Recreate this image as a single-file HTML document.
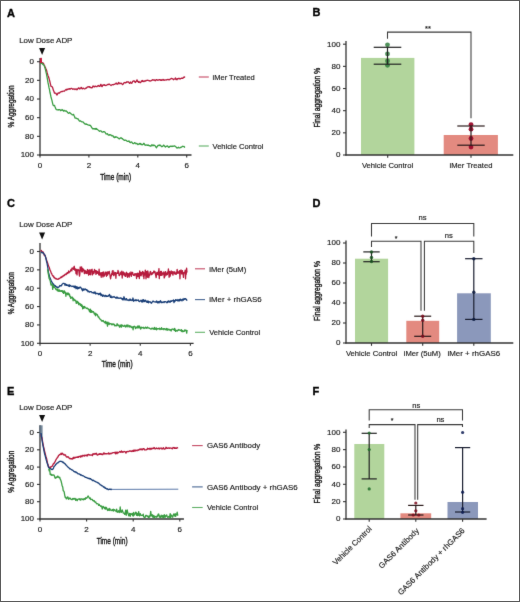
<!DOCTYPE html>
<html><head><meta charset="utf-8"><style>
html,body{margin:0;padding:0;background:#fff;}
#w{position:relative;width:520px;height:602px;overflow:hidden;}
svg{position:absolute;left:0;top:0;}
svg text{font-family:"Liberation Sans", sans-serif;stroke:#1a1a1a;stroke-width:0.16px;}
</style></head><body><div id="w">
<svg width="520" height="602" viewBox="0 0 520 602">
<defs><filter id="bl" filterUnits="userSpaceOnUse" x="0" y="0" width="520" height="602" color-interpolation-filters="sRGB"><feConvolveMatrix order="3" kernelMatrix="0.01 0.06 0.01 0.06 0.72 0.06 0.01 0.06 0.01" edgeMode="duplicate" preserveAlpha="false"/></filter></defs>
<rect x="0" y="0" width="520" height="602" fill="#fff"/>
<g filter="url(#bl)">
<text x="7.0" y="16.8" font-size="11" text-anchor="start" fill="#000" font-weight="bold" style="stroke:#000;stroke-width:0.35px">A</text>
<line x1="40" y1="58" x2="40" y2="155.6" stroke="#333" stroke-width="1.3"/>
<line x1="39.4" y1="155" x2="191.5" y2="155" stroke="#333" stroke-width="1.3"/>
<line x1="37" y1="61.7" x2="40" y2="61.7" stroke="#333" stroke-width="1.1"/>
<text x="34" y="64.10000000000001" font-size="8.0" text-anchor="end" fill="#222" font-weight="normal" >0</text>
<line x1="37" y1="80.36" x2="40" y2="80.36" stroke="#333" stroke-width="1.1"/>
<text x="34" y="82.76" font-size="8.0" text-anchor="end" fill="#222" font-weight="normal" >20</text>
<line x1="37" y1="99.02000000000001" x2="40" y2="99.02000000000001" stroke="#333" stroke-width="1.1"/>
<text x="34" y="101.42000000000002" font-size="8.0" text-anchor="end" fill="#222" font-weight="normal" >40</text>
<line x1="37" y1="117.68" x2="40" y2="117.68" stroke="#333" stroke-width="1.1"/>
<text x="34" y="120.08000000000001" font-size="8.0" text-anchor="end" fill="#222" font-weight="normal" >60</text>
<line x1="37" y1="136.34" x2="40" y2="136.34" stroke="#333" stroke-width="1.1"/>
<text x="34" y="138.74" font-size="8.0" text-anchor="end" fill="#222" font-weight="normal" >80</text>
<line x1="37" y1="155.0" x2="40" y2="155.0" stroke="#333" stroke-width="1.1"/>
<text x="34" y="157.4" font-size="8.0" text-anchor="end" fill="#222" font-weight="normal" >100</text>
<line x1="40.0" y1="155" x2="40.0" y2="157.5" stroke="#333" stroke-width="1.1"/>
<text x="40.0" y="168.3" font-size="8.0" text-anchor="middle" fill="#222" font-weight="normal" >0</text>
<line x1="88.9" y1="155" x2="88.9" y2="157.5" stroke="#333" stroke-width="1.1"/>
<text x="88.9" y="168.3" font-size="8.0" text-anchor="middle" fill="#222" font-weight="normal" >2</text>
<line x1="137.8" y1="155" x2="137.8" y2="157.5" stroke="#333" stroke-width="1.1"/>
<text x="137.8" y="168.3" font-size="8.0" text-anchor="middle" fill="#222" font-weight="normal" >4</text>
<line x1="186.7" y1="155" x2="186.7" y2="157.5" stroke="#333" stroke-width="1.1"/>
<text x="186.7" y="168.3" font-size="8.0" text-anchor="middle" fill="#222" font-weight="normal" >6</text>
<text x="19.2" y="43.3" font-size="7.8" text-anchor="start" fill="#1a1a1a" font-weight="normal"  textLength="53.2" lengthAdjust="spacingAndGlyphs">Low Dose ADP</text>
<polygon points="39.1,48.099999999999994 45.1,48.099999999999994 42.1,55.0" fill="#111"/>
<g transform="translate(14.4,106.5) rotate(-90) scale(0.72,1)"><text x="0" y="0" font-size="9.0" text-anchor="middle" fill="#1a1a1a" style="stroke-width:0.4px">% Aggregation</text></g>
<g transform="translate(115.6,179.6) scale(0.71,1)"><text x="0" y="0" font-size="9.2" text-anchor="middle" fill="#1a1a1a" style="stroke-width:0.4px">Time (min)</text></g>
<path d="M40.00 62.51 L40.50 62.84 L41.00 62.29 L41.50 62.47 L42.00 62.61 L42.50 63.02 L43.00 63.01 L43.50 63.51 L44.00 64.74 L44.50 65.51 L45.00 66.81 L45.50 67.73 L46.00 69.05 L46.50 70.06 L47.00 72.21 L47.50 73.93 L48.00 75.67 L48.50 76.71 L49.00 78.30 L49.50 80.17 L50.00 82.09 L50.50 84.35 L51.00 86.26 L51.50 86.66 L52.00 86.59 L52.50 87.13 L53.00 88.98 L53.50 90.68 L54.00 91.53 L54.50 93.19 L55.00 93.03 L55.50 93.10 L56.00 93.37 L56.50 94.40 L57.00 95.06 L57.50 94.09 L58.00 93.15 L58.50 92.89 L59.00 93.01 L59.50 92.98 L60.00 92.34 L60.50 91.96 L61.00 91.76 L61.50 91.69 L62.00 91.46 L62.50 91.61 L63.00 91.17 L63.50 91.09 L64.00 91.16 L64.50 91.21 L65.00 90.30 L65.50 89.97 L66.00 89.39 L66.50 89.97 L67.00 89.10 L67.50 89.67 L68.00 89.25 L68.50 89.14 L69.00 88.58 L69.50 88.59 L70.00 89.23 L70.50 88.92 L71.00 88.40 L71.50 88.36 L72.00 88.57 L72.50 89.14 L73.00 89.36 L73.50 88.84 L74.00 88.83 L74.50 89.02 L75.00 89.58 L75.50 89.10 L76.00 88.87 L76.50 89.08 L77.00 89.78 L77.50 89.27 L78.00 88.48 L78.50 88.00 L79.00 87.91 L79.50 88.84 L80.00 88.92 L80.50 88.35 L81.00 87.44 L81.50 87.68 L82.00 88.62 L82.50 88.80 L83.00 88.35 L83.50 88.19 L84.00 88.60 L84.50 88.92 L85.00 88.77 L85.50 88.46 L86.00 87.90 L86.50 88.18 L87.00 87.17 L87.50 87.14 L88.00 86.62 L88.50 86.89 L89.00 87.00 L89.50 86.62 L90.00 87.52 L90.50 87.23 L91.00 87.71 L91.50 87.77 L92.00 87.90 L92.50 87.15 L93.00 85.88 L93.50 86.39 L94.00 86.64 L94.50 86.92 L95.00 86.15 L95.50 86.04 L96.00 86.65 L96.50 86.54 L97.00 86.57 L97.50 85.84 L98.00 85.98 L98.50 85.47 L99.00 86.02 L99.50 86.43 L100.00 86.18 L100.50 84.77 L101.00 84.34 L101.50 86.06 L102.00 86.65 L102.50 85.80 L103.00 84.91 L103.50 84.94 L104.00 85.22 L104.50 84.78 L105.00 85.33 L105.50 85.33 L106.00 85.56 L106.50 85.21 L107.00 84.98 L107.50 84.67 L108.00 84.29 L108.50 84.61 L109.00 84.21 L109.50 84.10 L110.00 84.67 L110.50 85.08 L111.00 85.47 L111.50 85.00 L112.00 84.77 L112.50 84.63 L113.00 84.53 L113.50 84.76 L114.00 84.29 L114.50 84.39 L115.00 83.94 L115.50 83.91 L116.00 83.08 L116.50 83.09 L117.00 84.17 L117.50 83.97 L118.00 84.13 L118.50 82.42 L119.00 82.85 L119.50 83.09 L120.00 83.83 L120.50 83.48 L121.00 83.11 L121.50 83.44 L122.00 83.92 L122.50 84.60 L123.00 84.31 L123.50 83.69 L124.00 82.71 L124.50 82.51 L125.00 82.74 L125.50 82.72 L126.00 82.76 L126.50 81.92 L127.00 82.23 L127.50 81.85 L128.00 82.00 L128.50 81.87 L129.00 82.63 L129.50 83.31 L130.00 83.05 L130.50 82.04 L131.00 83.02 L131.50 83.29 L132.00 83.16 L132.50 81.54 L133.00 81.16 L133.50 80.94 L134.00 81.31 L134.50 81.04 L135.00 82.21 L135.50 82.52 L136.00 81.51 L136.50 80.96 L137.00 79.81 L137.50 81.44 L138.00 81.46 L138.50 82.37 L139.00 81.39 L139.50 82.08 L140.00 82.69 L140.50 82.66 L141.00 82.00 L141.50 80.80 L142.00 81.23 L142.50 80.49 L143.00 81.56 L143.50 81.12 L144.00 81.51 L144.50 80.89 L145.00 81.00 L145.50 81.00 L146.00 80.51 L146.50 80.70 L147.00 80.27 L147.50 80.30 L148.00 80.24 L148.50 80.57 L149.00 80.75 L149.50 80.68 L150.00 81.12 L150.50 80.93 L151.00 80.97 L151.50 80.32 L152.00 80.20 L152.50 79.69 L153.00 80.17 L153.50 79.88 L154.00 80.07 L154.50 79.98 L155.00 80.62 L155.50 80.74 L156.00 79.68 L156.50 79.67 L157.00 79.92 L157.50 80.16 L158.00 80.29 L158.50 79.84 L159.00 79.94 L159.50 79.62 L160.00 79.82 L160.50 80.37 L161.00 79.60 L161.50 80.44 L162.00 80.06 L162.50 80.06 L163.00 79.51 L163.50 79.59 L164.00 80.37 L164.50 79.92 L165.00 80.02 L165.50 79.95 L166.00 79.75 L166.50 80.03 L167.00 79.69 L167.50 79.60 L168.00 79.30 L168.50 79.66 L169.00 79.90 L169.50 79.46 L170.00 79.50 L170.50 78.79 L171.00 78.68 L171.50 78.38 L172.00 78.51 L172.50 78.92 L173.00 78.83 L173.50 79.76 L174.00 79.31 L174.50 79.01 L175.00 78.71 L175.50 77.99 L176.00 79.55 L176.50 79.05 L177.00 79.74 L177.50 78.71 L178.00 78.94 L178.50 78.42 L179.00 78.26 L179.50 78.59 L180.00 79.10 L180.50 78.65 L181.00 78.42 L181.50 78.16 L182.00 78.41 L182.50 78.22 L183.00 78.25 L183.50 77.39 L184.00 77.14 L184.50 76.99 L185.00 77.52" fill="none" stroke="#b61b3d" stroke-width="1.3" stroke-linejoin="round" opacity="1"/>
<path d="M40.50 63.89 L41.00 63.53 L41.50 62.55 L42.00 63.27 L42.50 63.82 L43.00 64.60 L43.50 64.65 L44.00 65.32 L44.50 66.54 L45.00 68.03 L45.50 69.79 L46.00 72.19 L46.50 74.05 L47.00 76.80 L47.50 79.57 L48.00 82.71 L48.50 84.98 L49.00 87.65 L49.50 89.72 L50.00 92.52 L50.50 94.65 L51.00 97.00 L51.50 98.80 L52.00 100.57 L52.50 102.84 L53.00 104.88 L53.50 105.64 L54.00 105.71 L54.50 105.34 L55.00 106.79 L55.50 107.94 L56.00 109.22 L56.50 109.55 L57.00 109.84 L57.50 109.78 L58.00 109.66 L58.50 110.00 L59.00 109.66 L59.50 109.69 L60.00 109.58 L60.50 110.61 L61.00 110.57 L61.50 110.22 L62.00 109.53 L62.50 110.14 L63.00 110.47 L63.50 111.13 L64.00 110.29 L64.50 110.81 L65.00 110.81 L65.50 111.06 L66.00 110.89 L66.50 111.12 L67.00 111.81 L67.50 112.31 L68.00 112.93 L68.50 113.27 L69.00 113.15 L69.50 112.45 L70.00 112.87 L70.50 113.24 L71.00 113.81 L71.50 114.00 L72.00 114.72 L72.50 114.89 L73.00 114.90 L73.50 114.35 L74.00 115.48 L74.50 116.40 L75.00 118.05 L75.50 118.06 L76.00 118.20 L76.50 118.25 L77.00 118.60 L77.50 118.79 L78.00 118.70 L78.50 119.62 L79.00 120.45 L79.50 121.18 L80.00 120.85 L80.50 120.82 L81.00 121.27 L81.50 121.63 L82.00 121.90 L82.50 121.86 L83.00 121.89 L83.50 122.47 L84.00 123.15 L84.50 123.45 L85.00 124.12 L85.50 123.82 L86.00 124.41 L86.50 123.96 L87.00 124.37 L87.50 124.60 L88.00 124.99 L88.50 125.10 L89.00 125.13 L89.50 125.27 L90.00 125.25 L90.50 125.63 L91.00 126.27 L91.50 127.31 L92.00 127.84 L92.50 128.74 L93.00 128.80 L93.50 128.69 L94.00 128.74 L94.50 128.54 L95.00 129.22 L95.50 128.55 L96.00 129.23 L96.50 128.52 L97.00 129.33 L97.50 129.38 L98.00 129.91 L98.50 130.37 L99.00 130.87 L99.50 131.40 L100.00 130.83 L100.50 130.78 L101.00 130.91 L101.50 131.58 L102.00 132.05 L102.50 132.09 L103.00 131.89 L103.50 131.66 L104.00 131.65 L104.50 131.84 L105.00 132.19 L105.50 133.04 L106.00 133.86 L106.50 133.85 L107.00 134.03 L107.50 133.69 L108.00 134.83 L108.50 134.86 L109.00 135.39 L109.50 134.66 L110.00 134.64 L110.50 134.76 L111.00 135.16 L111.50 135.74 L112.00 135.39 L112.50 135.93 L113.00 135.73 L113.50 136.97 L114.00 136.86 L114.50 137.67 L115.00 136.85 L115.50 137.24 L116.00 136.77 L116.50 137.21 L117.00 137.22 L117.50 137.54 L118.00 137.92 L118.50 138.29 L119.00 138.73 L119.50 138.75 L120.00 138.21 L120.50 137.89 L121.00 137.99 L121.50 137.89 L122.00 138.53 L122.50 138.67 L123.00 139.42 L123.50 139.64 L124.00 140.10 L124.50 140.45 L125.00 140.03 L125.50 140.14 L126.00 140.41 L126.50 140.68 L127.00 141.15 L127.50 141.44 L128.00 141.32 L128.50 141.24 L129.00 140.87 L129.50 142.04 L130.00 142.41 L130.50 142.59 L131.00 142.06 L131.50 141.95 L132.00 142.34 L132.50 143.21 L133.00 143.52 L133.50 143.60 L134.00 143.40 L134.50 142.62 L135.00 142.90 L135.50 143.08 L136.00 143.76 L136.50 143.52 L137.00 143.51 L137.50 144.27 L138.00 144.64 L138.50 144.18 L139.00 144.09 L139.50 143.50 L140.00 144.09 L140.50 143.52 L141.00 144.48 L141.50 144.11 L142.00 144.78 L142.50 144.65 L143.00 144.43 L143.50 143.44 L144.00 143.31 L144.50 144.33 L145.00 145.05 L145.50 145.23 L146.00 144.80 L146.50 145.05 L147.00 145.20 L147.50 145.42 L148.00 144.92 L148.50 145.24 L149.00 145.63 L149.50 145.58 L150.00 145.99 L150.50 145.84 L151.00 146.15 L151.50 144.86 L152.00 144.89 L152.50 145.27 L153.00 145.74 L153.50 145.01 L154.00 145.23 L154.50 145.28 L155.00 145.75 L155.50 146.34 L156.00 147.25 L156.50 147.74 L157.00 146.74 L157.50 146.31 L158.00 145.33 L158.50 145.55 L159.00 145.14 L159.50 145.50 L160.00 145.00 L160.50 145.45 L161.00 145.93 L161.50 146.52 L162.00 146.66 L162.50 146.40 L163.00 145.99 L163.50 145.19 L164.00 145.39 L164.50 146.06 L165.00 146.61 L165.50 146.96 L166.00 146.38 L166.50 146.31 L167.00 145.89 L167.50 145.91 L168.00 146.68 L168.50 147.22 L169.00 147.41 L169.50 146.61 L170.00 146.35 L170.50 146.16 L171.00 146.57 L171.50 146.21 L172.00 146.58 L172.50 146.15 L173.00 146.43 L173.50 146.16 L174.00 146.01 L174.50 145.88 L175.00 146.12 L175.50 146.55 L176.00 146.91 L176.50 147.63 L177.00 148.01 L177.50 147.93 L178.00 147.70 L178.50 147.25 L179.00 147.82 L179.50 147.78 L180.00 147.60 L180.50 147.40 L181.00 147.51 L181.50 147.11 L182.00 146.65 L182.50 146.26 L183.00 146.52 L183.50 146.44 L184.00 146.31 L184.50 147.10 L185.00 147.46" fill="none" stroke="#3a9d42" stroke-width="1.3" stroke-linejoin="round" opacity="1"/>
<path d="M40.4 63 L40.6 58.2 L41.3 58 L41.6 63" fill="#c8163a" stroke="#c8163a" stroke-width="1"/>
<line x1="198.8" y1="77" x2="208.8" y2="77" stroke="#b61b3d" stroke-width="1.1" opacity="0.8"/>
<text x="212.5" y="79.7" font-size="7.8" text-anchor="start" fill="#1a1a1a" font-weight="normal"  textLength="42.3" lengthAdjust="spacingAndGlyphs">iMer Treated</text>
<line x1="198.8" y1="146" x2="208.8" y2="146" stroke="#3a9d42" stroke-width="1.1" opacity="0.8"/>
<text x="212.5" y="148.7" font-size="7.8" text-anchor="start" fill="#1a1a1a" font-weight="normal"  textLength="50.9" lengthAdjust="spacingAndGlyphs">Vehicle Control</text>
<text x="312.6" y="16.400000000000002" font-size="11" text-anchor="start" fill="#000" font-weight="bold" style="stroke:#000;stroke-width:0.35px">B</text>
<rect x="361" y="57.9" width="53.4" height="97.1" fill="#b2d59c"/>
<rect x="443.7" y="135" width="54.2" height="20" fill="#e38a80"/>
<line x1="346" y1="41" x2="346" y2="155.6" stroke="#333" stroke-width="1.3"/>
<line x1="345.4" y1="155" x2="513.3" y2="155" stroke="#333" stroke-width="1.3"/>
<line x1="343" y1="155.0" x2="346" y2="155.0" stroke="#333" stroke-width="1.1"/>
<text x="340.4" y="157.4" font-size="8.0" text-anchor="end" fill="#222" font-weight="normal" >0</text>
<line x1="343" y1="132.84" x2="346" y2="132.84" stroke="#333" stroke-width="1.1"/>
<text x="340.4" y="135.24" font-size="8.0" text-anchor="end" fill="#222" font-weight="normal" >20</text>
<line x1="343" y1="110.68" x2="346" y2="110.68" stroke="#333" stroke-width="1.1"/>
<text x="340.4" y="113.08000000000001" font-size="8.0" text-anchor="end" fill="#222" font-weight="normal" >40</text>
<line x1="343" y1="88.52" x2="346" y2="88.52" stroke="#333" stroke-width="1.1"/>
<text x="340.4" y="90.92" font-size="8.0" text-anchor="end" fill="#222" font-weight="normal" >60</text>
<line x1="343" y1="66.36" x2="346" y2="66.36" stroke="#333" stroke-width="1.1"/>
<text x="340.4" y="68.76" font-size="8.0" text-anchor="end" fill="#222" font-weight="normal" >80</text>
<line x1="343" y1="44.2" x2="346" y2="44.2" stroke="#333" stroke-width="1.1"/>
<text x="340.4" y="46.6" font-size="8.0" text-anchor="end" fill="#222" font-weight="normal" >100</text>
<line x1="387.7" y1="155" x2="387.7" y2="157.8" stroke="#333" stroke-width="1.1"/>
<line x1="471" y1="155" x2="471" y2="157.8" stroke="#333" stroke-width="1.1"/>
<g transform="translate(320.0,97.7) rotate(-90) scale(0.81,1)"><text x="0" y="0" font-size="8.3" text-anchor="middle" fill="#1a1a1a" style="stroke-width:0.4px">Final aggregation %</text></g>
<text x="387.5" y="168.3" font-size="7.7" text-anchor="middle" fill="#222" font-weight="normal"  textLength="51.2" lengthAdjust="spacingAndGlyphs">Vehicle Control</text>
<text x="471" y="168.3" font-size="7.7" text-anchor="middle" fill="#222" font-weight="normal"  textLength="43.0" lengthAdjust="spacingAndGlyphs">iMer Treated</text>
<polyline points="387.5,38.7 387.5,32.1 471,32.1 471,118.3" fill="none" stroke="#3a3a3a" stroke-width="1.05"/>
<text x="428" y="31.2" font-size="7.5" text-anchor="middle" fill="#1a1a1a" font-weight="normal" >**</text>
<circle cx="387.5" cy="44.8" r="2.4" fill="#2f7d3c" opacity="0.85"/>
<circle cx="387.5" cy="53.9" r="2.4" fill="#2f7d3c" opacity="0.85"/>
<circle cx="387.5" cy="60.9" r="2.4" fill="#2f7d3c" opacity="0.85"/>
<circle cx="387.5" cy="65.3" r="2.4" fill="#2f7d3c" opacity="0.85"/>
<line x1="387.5" y1="47.3" x2="387.5" y2="64.2" stroke="#222" stroke-width="1.2"/>
<line x1="373.7" y1="47.3" x2="401.3" y2="47.3" stroke="#222" stroke-width="1.2"/>
<line x1="373.7" y1="64.2" x2="401.3" y2="64.2" stroke="#222" stroke-width="1.2"/>
<circle cx="471" cy="124.6" r="2.4" fill="#9a0a2a" opacity="0.95"/>
<circle cx="471" cy="129.2" r="2.4" fill="#9a0a2a" opacity="0.95"/>
<circle cx="471" cy="138.5" r="2.4" fill="#9a0a2a" opacity="0.95"/>
<circle cx="471" cy="147.1" r="2.4" fill="#9a0a2a" opacity="0.95"/>
<line x1="471" y1="126" x2="471" y2="145.2" stroke="#2a1a1a" stroke-width="1.2"/>
<line x1="457.3" y1="126" x2="484.7" y2="126" stroke="#2a1a1a" stroke-width="1.2"/>
<line x1="457.3" y1="145.2" x2="484.7" y2="145.2" stroke="#2a1a1a" stroke-width="1.2"/>
<text x="7.0" y="206.8" font-size="11" text-anchor="start" fill="#000" font-weight="bold" style="stroke:#000;stroke-width:0.35px">C</text>
<line x1="40" y1="242.9" x2="40" y2="343.90000000000003" stroke="#333" stroke-width="1.3"/>
<line x1="39.4" y1="343.3" x2="193.6" y2="343.3" stroke="#333" stroke-width="1.3"/>
<line x1="37" y1="251.5" x2="40" y2="251.5" stroke="#333" stroke-width="1.1"/>
<text x="34" y="253.9" font-size="8.0" text-anchor="end" fill="#222" font-weight="normal" >0</text>
<line x1="37" y1="269.86" x2="40" y2="269.86" stroke="#333" stroke-width="1.1"/>
<text x="34" y="272.26" font-size="8.0" text-anchor="end" fill="#222" font-weight="normal" >20</text>
<line x1="37" y1="288.22" x2="40" y2="288.22" stroke="#333" stroke-width="1.1"/>
<text x="34" y="290.62" font-size="8.0" text-anchor="end" fill="#222" font-weight="normal" >40</text>
<line x1="37" y1="306.58000000000004" x2="40" y2="306.58000000000004" stroke="#333" stroke-width="1.1"/>
<text x="34" y="308.98" font-size="8.0" text-anchor="end" fill="#222" font-weight="normal" >60</text>
<line x1="37" y1="324.94" x2="40" y2="324.94" stroke="#333" stroke-width="1.1"/>
<text x="34" y="327.34" font-size="8.0" text-anchor="end" fill="#222" font-weight="normal" >80</text>
<line x1="37" y1="343.3" x2="40" y2="343.3" stroke="#333" stroke-width="1.1"/>
<text x="34" y="345.7" font-size="8.0" text-anchor="end" fill="#222" font-weight="normal" >100</text>
<line x1="40.0" y1="343.3" x2="40.0" y2="345.8" stroke="#333" stroke-width="1.1"/>
<text x="40.0" y="355.6" font-size="8.0" text-anchor="middle" fill="#222" font-weight="normal" >0</text>
<line x1="90.13333333333333" y1="343.3" x2="90.13333333333333" y2="345.8" stroke="#333" stroke-width="1.1"/>
<text x="90.13333333333333" y="355.6" font-size="8.0" text-anchor="middle" fill="#222" font-weight="normal" >2</text>
<line x1="140.26666666666665" y1="343.3" x2="140.26666666666665" y2="345.8" stroke="#333" stroke-width="1.1"/>
<text x="140.26666666666665" y="355.6" font-size="8.0" text-anchor="middle" fill="#222" font-weight="normal" >4</text>
<line x1="190.4" y1="343.3" x2="190.4" y2="345.8" stroke="#333" stroke-width="1.1"/>
<text x="190.4" y="355.6" font-size="8.0" text-anchor="middle" fill="#222" font-weight="normal" >6</text>
<text x="19.2" y="227.1" font-size="7.8" text-anchor="start" fill="#1a1a1a" font-weight="normal"  textLength="53.2" lengthAdjust="spacingAndGlyphs">Low Dose ADP</text>
<polygon points="39.1,232.60000000000002 45.1,232.60000000000002 42.1,239.5" fill="#111"/>
<g transform="translate(14.4,293.3) rotate(-90) scale(0.72,1)"><text x="0" y="0" font-size="9.0" text-anchor="middle" fill="#1a1a1a" style="stroke-width:0.4px">% Aggregation</text></g>
<g transform="translate(117.2,367.0) scale(0.71,1)"><text x="0" y="0" font-size="9.2" text-anchor="middle" fill="#1a1a1a" style="stroke-width:0.4px">Time (min)</text></g>
<path d="M41.00 251.61 L41.35 250.32 L41.70 251.39 L42.05 251.34 L42.40 251.69 L42.75 252.13 L43.10 252.01 L43.45 252.99 L43.80 253.27 L44.15 255.02 L44.50 254.73 L44.85 255.34 L45.20 256.25 L45.55 257.08 L45.90 257.94 L46.25 259.09 L46.60 260.27 L46.95 261.00 L47.30 262.35 L47.65 263.00 L48.00 264.08 L48.35 265.54 L48.70 266.23 L49.05 266.88 L49.40 267.91 L49.75 269.07 L50.10 270.46 L50.45 270.76 L50.80 271.70 L51.15 272.96 L51.50 273.20 L51.85 274.08 L52.20 275.02 L52.55 275.48 L52.90 275.87 L53.25 276.56 L53.60 276.00 L53.95 277.60 L54.30 277.40 L54.65 277.53 L55.00 278.39 L55.35 278.72 L55.70 278.49 L56.05 278.40 L56.40 278.81 L56.75 278.86 L57.10 279.35 L57.45 279.20 L57.80 279.05 L58.15 279.33 L58.50 278.85 L58.85 278.50 L59.20 278.76 L59.55 278.55 L59.90 278.10 L60.25 277.74 L60.60 277.85 L60.95 276.84 L61.30 277.58 L61.65 277.31 L62.00 276.44 L62.35 276.72 L62.70 276.18 L63.05 276.46 L63.40 275.38 L63.75 275.47 L64.10 275.71 L64.45 275.59 L64.80 274.35 L65.15 274.60 L65.50 274.58 L65.85 274.03 L66.20 274.46 L66.55 273.22 L66.90 273.52 L67.25 272.62 L67.60 273.49 L67.95 272.50 L68.30 272.01 L68.65 270.88 L69.00 272.78 L69.35 271.92 L69.70 271.69 L70.05 271.77 L70.40 270.92 L70.75 269.84 L71.10 269.41 L71.45 269.11 L71.80 270.96 L72.15 267.81 L72.50 268.44 L72.85 268.50 L73.20 268.95 L73.55 269.26 L73.90 266.94 L74.25 266.27 L74.60 268.53 L74.95 270.25 L75.30 269.72 L75.65 269.04 L76.00 273.59 L76.35 269.37 L76.70 272.11 L77.05 274.89 L77.40 269.97 L77.75 269.60 L78.10 269.35 L78.45 270.44 L78.80 270.07 L79.15 273.65 L79.50 276.16 L79.85 274.01 L80.20 266.97 L80.55 269.57 L80.90 269.21 L81.25 270.97 L81.60 266.79 L81.95 272.01 L82.30 271.89 L82.65 268.37 L83.00 268.89 L83.35 269.19 L83.70 270.49 L84.05 271.42 L84.40 273.56 L84.75 270.22 L85.10 271.70 L85.45 270.81 L85.80 273.24 L86.15 271.75 L86.50 272.71 L86.85 273.64 L87.20 270.43 L87.55 269.53 L87.90 273.04 L88.25 271.80 L88.60 275.22 L88.95 270.21 L89.30 271.65 L89.65 274.27 L90.00 269.60 L90.35 271.76 L90.70 274.78 L91.05 270.77 L91.40 270.35 L91.75 269.48 L92.10 269.29 L92.45 274.86 L92.80 272.68 L93.15 271.47 L93.50 272.02 L93.85 273.59 L94.20 271.84 L94.55 269.40 L94.90 271.06 L95.25 271.97 L95.60 270.69 L95.95 274.41 L96.30 270.74 L96.65 271.52 L97.00 273.35 L97.35 271.51 L97.70 271.93 L98.05 273.42 L98.40 273.21 L98.75 274.82 L99.10 269.17 L99.45 273.63 L99.80 275.04 L100.15 272.60 L100.50 273.69 L100.85 274.09 L101.20 277.28 L101.55 272.76 L101.90 274.97 L102.25 275.65 L102.60 272.40 L102.95 277.03 L103.30 271.85 L103.65 275.95 L104.00 274.26 L104.35 276.03 L104.70 275.26 L105.05 272.25 L105.40 273.10 L105.75 273.98 L106.10 272.03 L106.45 276.26 L106.80 272.94 L107.15 275.41 L107.50 272.02 L107.85 274.61 L108.20 272.11 L108.55 273.47 L108.90 272.06 L109.25 271.36 L109.60 273.39 L109.95 274.75 L110.30 277.31 L110.65 278.80 L111.00 275.72 L111.35 275.97 L111.70 273.61 L112.05 272.93 L112.40 270.95 L112.75 274.52 L113.10 270.77 L113.45 274.41 L113.80 275.71 L114.15 275.16 L114.50 273.39 L114.85 272.27 L115.20 274.06 L115.55 272.70 L115.90 278.27 L116.25 273.64 L116.60 273.39 L116.95 273.33 L117.30 272.38 L117.65 273.36 L118.00 270.45 L118.35 273.43 L118.70 271.88 L119.05 275.37 L119.40 275.61 L119.75 274.30 L120.10 273.94 L120.45 273.55 L120.80 272.18 L121.15 274.55 L121.50 273.07 L121.85 271.12 L122.20 278.05 L122.55 273.56 L122.90 273.95 L123.25 271.94 L123.60 274.72 L123.95 274.90 L124.30 275.12 L124.65 272.81 L125.00 275.91 L125.35 276.44 L125.70 276.42 L126.05 274.11 L126.40 272.28 L126.75 272.62 L127.10 273.71 L127.45 277.24 L127.80 273.53 L128.15 276.07 L128.50 274.56 L128.85 273.73 L129.20 277.21 L129.55 272.99 L129.90 274.90 L130.25 274.02 L130.60 274.71 L130.95 272.01 L131.30 276.42 L131.65 273.58 L132.00 273.81 L132.35 272.35 L132.70 272.66 L133.05 274.59 L133.40 275.22 L133.75 274.87 L134.10 275.55 L134.45 274.80 L134.80 273.77 L135.15 274.97 L135.50 274.60 L135.85 273.56 L136.20 274.79 L136.55 278.52 L136.90 274.04 L137.25 273.15 L137.60 274.76 L137.95 276.53 L138.30 273.35 L138.65 273.52 L139.00 273.45 L139.35 278.50 L139.70 270.89 L140.05 274.18 L140.40 275.42 L140.75 272.40 L141.10 275.85 L141.45 274.41 L141.80 272.78 L142.15 273.90 L142.50 271.29 L142.85 272.73 L143.20 276.31 L143.55 272.22 L143.90 278.65 L144.25 273.43 L144.60 275.03 L144.95 273.60 L145.30 270.17 L145.65 272.66 L146.00 278.82 L146.35 271.78 L146.70 271.48 L147.05 274.04 L147.40 277.29 L147.75 270.93 L148.10 272.44 L148.45 274.75 L148.80 277.58 L149.15 274.84 L149.50 275.72 L149.85 273.47 L150.20 271.72 L150.55 271.46 L150.90 273.36 L151.25 274.72 L151.60 273.79 L151.95 274.20 L152.30 272.70 L152.65 273.81 L153.00 272.65 L153.35 272.86 L153.70 271.40 L154.05 270.97 L154.40 272.59 L154.75 271.65 L155.10 271.86 L155.45 274.30 L155.80 275.92 L156.15 277.64 L156.50 274.65 L156.85 272.30 L157.20 274.40 L157.55 273.76 L157.90 272.19 L158.25 274.86 L158.60 272.03 L158.95 268.60 L159.30 278.59 L159.65 272.23 L160.00 275.38 L160.35 272.16 L160.70 271.35 L161.05 275.43 L161.40 271.49 L161.75 273.39 L162.10 275.25 L162.45 273.23 L162.80 272.93 L163.15 273.19 L163.50 274.28 L163.85 271.79 L164.20 277.94 L164.55 276.92 L164.90 276.46 L165.25 272.44 L165.60 271.56 L165.95 274.02 L166.30 275.20 L166.65 273.32 L167.00 273.07 L167.35 274.60 L167.70 271.85 L168.05 272.68 L168.40 268.97 L168.75 271.45 L169.10 277.24 L169.45 271.73 L169.80 271.68 L170.15 276.09 L170.50 273.56 L170.85 272.94 L171.20 270.88 L171.55 273.64 L171.90 273.01 L172.25 273.73 L172.60 271.61 L172.95 275.16 L173.30 273.15 L173.65 272.34 L174.00 271.72 L174.35 272.11 L174.70 273.74 L175.05 272.03 L175.40 274.02 L175.75 273.25 L176.10 274.38 L176.45 273.56 L176.80 272.22 L177.15 269.43 L177.50 272.71 L177.85 273.42 L178.20 272.45 L178.55 273.01 L178.90 271.43 L179.25 271.53 L179.60 270.65 L179.95 278.79 L180.30 272.23 L180.65 271.21 L181.00 269.91 L181.35 271.63 L181.70 273.98 L182.05 272.46 L182.40 270.63 L182.75 273.82 L183.10 273.77 L183.45 277.47 L183.80 272.71 L184.15 273.21 L184.50 272.24 L184.85 272.53 L185.20 270.15 L185.55 278.76 L185.90 271.56 L186.25 274.19 L186.60 268.04 L186.95 272.11 L187.30 272.47" fill="none" stroke="#b61b3d" stroke-width="1.3" stroke-linejoin="round" opacity="1"/>
<path d="M41.00 251.80 L41.50 252.02 L42.00 252.77 L42.50 252.78 L43.00 252.50 L43.50 253.50 L44.00 253.90 L44.50 254.77 L45.00 255.05 L45.50 256.96 L46.00 258.75 L46.50 261.24 L47.00 263.09 L47.50 266.01 L48.00 268.88 L48.50 273.13 L49.00 274.02 L49.50 276.72 L50.00 277.84 L50.50 279.01 L51.00 280.20 L51.50 281.19 L52.00 282.42 L52.50 283.10 L53.00 284.33 L53.50 284.00 L54.00 285.12 L54.50 285.33 L55.00 286.26 L55.50 285.81 L56.00 286.71 L56.50 287.16 L57.00 286.82 L57.50 287.59 L58.00 287.24 L58.50 287.28 L59.00 287.00 L59.50 286.11 L60.00 285.52 L60.50 285.62 L61.00 286.01 L61.50 285.75 L62.00 284.29 L62.50 283.98 L63.00 283.50 L63.50 283.38 L64.00 283.46 L64.50 283.53 L65.00 285.26 L65.50 283.82 L66.00 284.40 L66.50 285.35 L67.00 284.71 L67.50 285.32 L68.00 285.61 L68.50 286.12 L69.00 284.64 L69.50 286.49 L70.00 285.26 L70.50 285.62 L71.00 286.13 L71.50 286.12 L72.00 286.58 L72.50 286.19 L73.00 286.29 L73.50 286.74 L74.00 286.00 L74.50 287.69 L75.00 286.43 L75.50 286.22 L76.00 288.66 L76.50 287.25 L77.00 286.64 L77.50 288.88 L78.00 287.48 L78.50 288.59 L79.00 287.41 L79.50 287.96 L80.00 287.11 L80.50 287.12 L81.00 287.94 L81.50 288.74 L82.00 289.53 L82.50 290.84 L83.00 288.60 L83.50 290.20 L84.00 289.24 L84.50 289.72 L85.00 288.96 L85.50 289.12 L86.00 289.76 L86.50 289.61 L87.00 290.59 L87.50 290.24 L88.00 291.76 L88.50 291.13 L89.00 291.28 L89.50 292.11 L90.00 291.82 L90.50 291.57 L91.00 291.67 L91.50 291.79 L92.00 292.77 L92.50 292.70 L93.00 292.55 L93.50 292.99 L94.00 292.19 L94.50 293.06 L95.00 291.85 L95.50 293.92 L96.00 293.18 L96.50 293.37 L97.00 293.80 L97.50 293.50 L98.00 293.46 L98.50 294.60 L99.00 293.98 L99.50 293.38 L100.00 294.46 L100.50 293.08 L101.00 295.56 L101.50 294.40 L102.00 294.68 L102.50 296.35 L103.00 296.39 L103.50 295.09 L104.00 295.56 L104.50 296.00 L105.00 296.53 L105.50 295.37 L106.00 295.67 L106.50 296.54 L107.00 295.98 L107.50 296.43 L108.00 296.44 L108.50 295.32 L109.00 295.62 L109.50 294.47 L110.00 296.24 L110.50 297.45 L111.00 295.84 L111.50 297.57 L112.00 297.50 L112.50 296.85 L113.00 296.98 L113.50 297.13 L114.00 296.56 L114.50 297.06 L115.00 297.31 L115.50 297.86 L116.00 298.08 L116.50 297.09 L117.00 298.28 L117.50 297.24 L118.00 297.75 L118.50 298.22 L119.00 298.03 L119.50 298.04 L120.00 298.40 L120.50 297.91 L121.00 297.92 L121.50 298.31 L122.00 299.21 L122.50 298.55 L123.00 300.03 L123.50 298.92 L124.00 296.77 L124.50 298.62 L125.00 300.17 L125.50 299.08 L126.00 298.85 L126.50 298.61 L127.00 300.22 L127.50 300.07 L128.00 299.91 L128.50 299.81 L129.00 300.58 L129.50 300.22 L130.00 298.85 L130.50 300.31 L131.00 299.95 L131.50 299.82 L132.00 300.49 L132.50 300.04 L133.00 298.02 L133.50 301.23 L134.00 300.92 L134.50 300.16 L135.00 300.04 L135.50 300.51 L136.00 299.51 L136.50 300.67 L137.00 300.34 L137.50 300.31 L138.00 299.95 L138.50 300.17 L139.00 301.47 L139.50 301.67 L140.00 301.14 L140.50 300.80 L141.00 300.27 L141.50 301.43 L142.00 302.10 L142.50 299.89 L143.00 301.89 L143.50 299.60 L144.00 300.92 L144.50 301.48 L145.00 300.30 L145.50 300.23 L146.00 301.47 L146.50 302.00 L147.00 301.09 L147.50 302.41 L148.00 300.96 L148.50 302.78 L149.00 301.67 L149.50 301.79 L150.00 302.09 L150.50 301.92 L151.00 303.02 L151.50 303.30 L152.00 302.17 L152.50 301.70 L153.00 301.02 L153.50 301.34 L154.00 301.90 L154.50 301.84 L155.00 301.90 L155.50 301.95 L156.00 302.31 L156.50 301.03 L157.00 301.27 L157.50 302.78 L158.00 302.58 L158.50 301.62 L159.00 302.91 L159.50 301.52 L160.00 301.81 L160.50 300.69 L161.00 302.54 L161.50 301.92 L162.00 302.65 L162.50 302.36 L163.00 301.90 L163.50 301.91 L164.00 302.60 L164.50 301.60 L165.00 301.57 L165.50 301.67 L166.00 302.14 L166.50 302.17 L167.00 302.81 L167.50 301.36 L168.00 302.25 L168.50 300.85 L169.00 301.67 L169.50 301.28 L170.00 302.35 L170.50 301.50 L171.00 300.70 L171.50 301.36 L172.00 301.14 L172.50 300.62 L173.00 300.57 L173.50 300.06 L174.00 302.60 L174.50 300.71 L175.00 301.24 L175.50 299.68 L176.00 299.68 L176.50 300.27 L177.00 300.22 L177.50 300.82 L178.00 299.49 L178.50 300.51 L179.00 301.12 L179.50 299.36 L180.00 300.57 L180.50 299.19 L181.00 300.03 L181.50 299.97 L182.00 300.86 L182.50 299.09 L183.00 299.62 L183.50 300.16 L184.00 298.53 L184.50 299.27 L185.00 298.59 L185.50 298.63 L186.00 299.52 L186.50 299.45 L187.00 300.69" fill="none" stroke="#1a3f78" stroke-width="1.3" stroke-linejoin="round" opacity="1"/>
<path d="M47.50 269.28 L47.90 270.86 L48.30 273.75 L48.70 276.14 L49.10 278.42 L49.50 279.08 L49.90 279.99 L50.30 281.11 L50.70 283.56 L51.10 285.15 L51.50 284.64 L51.90 283.92 L52.30 284.74 L52.70 289.43 L53.10 286.78 L53.50 285.46 L53.90 287.34 L54.30 286.74 L54.70 287.58 L55.10 288.04 L55.50 288.16 L55.90 289.60 L56.30 289.33 L56.70 289.13 L57.10 290.28 L57.50 290.90 L57.90 288.89 L58.30 290.34 L58.70 291.39 L59.10 290.77 L59.50 289.92 L59.90 291.24 L60.30 291.32 L60.70 291.20 L61.10 290.64 L61.50 291.34 L61.90 290.83 L62.30 290.71 L62.70 292.25 L63.10 291.17 L63.50 293.35 L63.90 293.08 L64.30 290.77 L64.70 292.94 L65.10 291.84 L65.50 292.99 L65.90 296.25 L66.30 293.23 L66.70 293.20 L67.10 293.34 L67.50 294.62 L67.90 292.89 L68.30 294.83 L68.70 293.43 L69.10 294.41 L69.50 294.27 L69.90 296.67 L70.30 296.24 L70.70 298.29 L71.10 297.06 L71.50 297.62 L71.90 298.01 L72.30 297.08 L72.70 297.94 L73.10 300.77 L73.50 298.40 L73.90 299.33 L74.30 299.54 L74.70 300.52 L75.10 300.06 L75.50 300.65 L75.90 301.41 L76.30 303.26 L76.70 301.19 L77.10 303.13 L77.50 301.50 L77.90 301.93 L78.30 302.19 L78.70 304.54 L79.10 303.67 L79.50 303.43 L79.90 303.59 L80.30 305.29 L80.70 304.25 L81.10 304.33 L81.50 306.30 L81.90 304.92 L82.30 305.95 L82.70 308.82 L83.10 306.30 L83.50 306.87 L83.90 308.33 L84.30 306.86 L84.70 306.39 L85.10 307.60 L85.50 307.72 L85.90 307.78 L86.30 308.53 L86.70 308.07 L87.10 308.25 L87.50 308.24 L87.90 308.63 L88.30 309.46 L88.70 309.20 L89.10 309.87 L89.50 311.72 L89.90 310.68 L90.30 309.08 L90.70 312.30 L91.10 311.30 L91.50 310.40 L91.90 312.32 L92.30 311.78 L92.70 311.48 L93.10 311.73 L93.50 311.68 L93.90 312.90 L94.30 314.11 L94.70 313.15 L95.10 314.12 L95.50 315.73 L95.90 313.27 L96.30 314.93 L96.70 314.80 L97.10 314.51 L97.50 314.95 L97.90 316.28 L98.30 317.11 L98.70 316.68 L99.10 317.64 L99.50 318.68 L99.90 318.71 L100.30 319.38 L100.70 319.53 L101.10 319.91 L101.50 321.06 L101.90 320.65 L102.30 320.64 L102.70 321.23 L103.10 320.47 L103.50 321.03 L103.90 321.91 L104.30 322.01 L104.70 322.76 L105.10 322.03 L105.50 321.32 L105.90 323.55 L106.30 323.21 L106.70 322.08 L107.10 323.70 L107.50 326.19 L107.90 322.09 L108.30 323.06 L108.70 323.15 L109.10 324.53 L109.50 323.22 L109.90 323.66 L110.30 323.75 L110.70 323.79 L111.10 323.57 L111.50 324.33 L111.90 324.93 L112.30 324.73 L112.70 323.87 L113.10 323.80 L113.50 324.63 L113.90 324.20 L114.30 324.31 L114.70 325.91 L115.10 325.97 L115.50 325.41 L115.90 325.45 L116.30 325.51 L116.70 325.82 L117.10 323.63 L117.50 324.78 L117.90 324.92 L118.30 325.59 L118.70 325.17 L119.10 325.15 L119.50 327.14 L119.90 326.48 L120.30 326.70 L120.70 325.13 L121.10 324.93 L121.50 327.14 L121.90 324.97 L122.30 325.25 L122.70 325.66 L123.10 325.96 L123.50 326.33 L123.90 325.98 L124.30 325.26 L124.70 326.12 L125.10 326.01 L125.50 327.02 L125.90 325.93 L126.30 325.17 L126.70 325.39 L127.10 326.93 L127.50 325.78 L127.90 324.88 L128.30 325.84 L128.70 326.23 L129.10 326.98 L129.50 325.71 L129.90 326.76 L130.30 326.88 L130.70 326.02 L131.10 326.37 L131.50 327.59 L131.90 327.60 L132.30 327.12 L132.70 326.85 L133.10 329.77 L133.50 326.65 L133.90 326.72 L134.30 326.30 L134.70 326.86 L135.10 326.85 L135.50 328.61 L135.90 326.87 L136.30 327.79 L136.70 327.86 L137.10 326.99 L137.50 327.85 L137.90 325.88 L138.30 327.28 L138.70 327.78 L139.10 325.86 L139.50 326.65 L139.90 328.01 L140.30 327.26 L140.70 329.13 L141.10 327.27 L141.50 327.20 L141.90 328.00 L142.30 327.88 L142.70 327.47 L143.10 327.28 L143.50 327.68 L143.90 328.54 L144.30 327.99 L144.70 328.20 L145.10 327.76 L145.50 327.11 L145.90 327.49 L146.30 328.34 L146.70 328.04 L147.10 327.47 L147.50 327.07 L147.90 328.14 L148.30 327.90 L148.70 327.93 L149.10 327.97 L149.50 328.37 L149.90 328.40 L150.30 328.83 L150.70 328.84 L151.10 329.11 L151.50 328.83 L151.90 328.17 L152.30 328.37 L152.70 328.72 L153.10 328.27 L153.50 328.81 L153.90 329.20 L154.30 328.06 L154.70 327.50 L155.10 329.31 L155.50 328.63 L155.90 329.07 L156.30 327.87 L156.70 329.74 L157.10 329.17 L157.50 328.68 L157.90 328.57 L158.30 328.88 L158.70 328.73 L159.10 328.69 L159.50 328.22 L159.90 329.67 L160.30 328.92 L160.70 329.02 L161.10 329.05 L161.50 327.61 L161.90 329.37 L162.30 328.89 L162.70 328.94 L163.10 329.18 L163.50 328.59 L163.90 329.71 L164.30 328.81 L164.70 328.72 L165.10 328.77 L165.50 329.41 L165.90 329.80 L166.30 329.02 L166.70 328.50 L167.10 330.08 L167.50 328.83 L167.90 330.21 L168.30 329.50 L168.70 329.14 L169.10 329.20 L169.50 329.90 L169.90 330.18 L170.30 329.56 L170.70 330.28 L171.10 330.99 L171.50 329.64 L171.90 329.11 L172.30 329.20 L172.70 329.03 L173.10 329.51 L173.50 329.49 L173.90 329.16 L174.30 330.30 L174.70 328.45 L175.10 329.25 L175.50 331.28 L175.90 330.73 L176.30 330.45 L176.70 330.44 L177.10 331.26 L177.50 330.55 L177.90 330.31 L178.30 329.55 L178.70 330.28 L179.10 329.91 L179.50 329.96 L179.90 329.99 L180.30 330.42 L180.70 330.28 L181.10 331.03 L181.50 329.74 L181.90 331.63 L182.30 331.72 L182.70 330.66 L183.10 331.39 L183.50 331.38 L183.90 331.52 L184.30 331.20 L184.70 329.96 L185.10 330.66 L185.50 330.63 L185.90 329.96 L186.30 330.64 L186.70 333.05 L187.10 329.98" fill="none" stroke="#3a9d42" stroke-width="1.3" stroke-linejoin="round" opacity="1"/>
<line x1="195" y1="268.8" x2="205" y2="268.8" stroke="#b61b3d" stroke-width="1.1" opacity="0.8"/>
<text x="209.2" y="271.5" font-size="7.8" text-anchor="start" fill="#1a1a1a" font-weight="normal"  textLength="37.0" lengthAdjust="spacingAndGlyphs">iMer (5uM)</text>
<line x1="195" y1="299.6" x2="205" y2="299.6" stroke="#1a3f78" stroke-width="1.1" opacity="0.8"/>
<text x="209.2" y="302.3" font-size="7.8" text-anchor="start" fill="#1a1a1a" font-weight="normal"  textLength="52.4" lengthAdjust="spacingAndGlyphs">iMer + rhGAS6</text>
<line x1="195" y1="332.3" x2="205" y2="332.3" stroke="#3a9d42" stroke-width="1.1" opacity="0.8"/>
<text x="209.2" y="335.0" font-size="7.8" text-anchor="start" fill="#1a1a1a" font-weight="normal"  textLength="51.0" lengthAdjust="spacingAndGlyphs">Vehicle Control</text>
<text x="312.6" y="206.8" font-size="11" text-anchor="start" fill="#000" font-weight="bold" style="stroke:#000;stroke-width:0.35px">D</text>
<rect x="355" y="258.7" width="33.1" height="84.3" fill="#b2d59c"/>
<rect x="406.3" y="320.8" width="32.9" height="22.2" fill="#e38a80"/>
<rect x="457.1" y="293.3" width="33.7" height="49.7" fill="#8b98bb"/>
<line x1="346" y1="240.4" x2="346" y2="343.6" stroke="#333" stroke-width="1.3"/>
<line x1="345.4" y1="343" x2="513.3" y2="343" stroke="#333" stroke-width="1.3"/>
<line x1="343" y1="343.0" x2="346" y2="343.0" stroke="#333" stroke-width="1.1"/>
<text x="340.4" y="345.4" font-size="8.0" text-anchor="end" fill="#222" font-weight="normal" >0</text>
<line x1="343" y1="323.0" x2="346" y2="323.0" stroke="#333" stroke-width="1.1"/>
<text x="340.4" y="325.4" font-size="8.0" text-anchor="end" fill="#222" font-weight="normal" >20</text>
<line x1="343" y1="303.0" x2="346" y2="303.0" stroke="#333" stroke-width="1.1"/>
<text x="340.4" y="305.4" font-size="8.0" text-anchor="end" fill="#222" font-weight="normal" >40</text>
<line x1="343" y1="283.0" x2="346" y2="283.0" stroke="#333" stroke-width="1.1"/>
<text x="340.4" y="285.4" font-size="8.0" text-anchor="end" fill="#222" font-weight="normal" >60</text>
<line x1="343" y1="263.0" x2="346" y2="263.0" stroke="#333" stroke-width="1.1"/>
<text x="340.4" y="265.4" font-size="8.0" text-anchor="end" fill="#222" font-weight="normal" >80</text>
<line x1="343" y1="243.0" x2="346" y2="243.0" stroke="#333" stroke-width="1.1"/>
<text x="340.4" y="245.4" font-size="8.0" text-anchor="end" fill="#222" font-weight="normal" >100</text>
<line x1="371.5" y1="343" x2="371.5" y2="345.8" stroke="#333" stroke-width="1.1"/>
<line x1="422.7" y1="343" x2="422.7" y2="345.8" stroke="#333" stroke-width="1.1"/>
<line x1="473.8" y1="343" x2="473.8" y2="345.8" stroke="#333" stroke-width="1.1"/>
<g transform="translate(320.0,291) rotate(-90) scale(0.81,1)"><text x="0" y="0" font-size="8.3" text-anchor="middle" fill="#1a1a1a" style="stroke-width:0.4px">Final aggregation %</text></g>
<text x="371.6" y="356.2" font-size="7.7" text-anchor="middle" fill="#222" font-weight="normal"  textLength="51.3" lengthAdjust="spacingAndGlyphs">Vehicle Control</text>
<text x="422.2" y="356.2" font-size="7.7" text-anchor="middle" fill="#222" font-weight="normal"  textLength="37.0" lengthAdjust="spacingAndGlyphs">iMer (5uM)</text>
<text x="473.8" y="356.2" font-size="7.7" text-anchor="middle" fill="#222" font-weight="normal"  textLength="52.7" lengthAdjust="spacingAndGlyphs">iMer + rhGAS6</text>
<polyline points="371.5,236.5 371.5,223.5 473.8,223.5 473.8,236.5" fill="none" stroke="#3a3a3a" stroke-width="1.05"/>
<polyline points="371.5,247 371.5,241.3 421,241.3 421,310.8" fill="none" stroke="#3a3a3a" stroke-width="1.05"/>
<polyline points="424.4,310.8 424.4,241.3 473.8,241.3 473.8,252.9" fill="none" stroke="#3a3a3a" stroke-width="1.05"/>
<text x="422.5" y="219.8" font-size="7.6" text-anchor="middle" fill="#1a1a1a" font-weight="normal" >ns</text>
<text x="396" y="241" font-size="7" text-anchor="middle" fill="#1a1a1a" font-weight="normal" >*</text>
<text x="448.8" y="238.2" font-size="7.6" text-anchor="middle" fill="#1a1a1a" font-weight="normal" >ns</text>
<line x1="371.5" y1="251.9" x2="371.5" y2="261.7" stroke="#222" stroke-width="1.2"/>
<line x1="363.3" y1="251.9" x2="379.7" y2="251.9" stroke="#222" stroke-width="1.2"/>
<line x1="363.3" y1="261.7" x2="379.7" y2="261.7" stroke="#222" stroke-width="1.2"/>
<circle cx="371.5" cy="252" r="1.7" fill="#17521f" opacity="0.85"/>
<circle cx="371.5" cy="257.5" r="1.7" fill="#17521f" opacity="0.85"/>
<circle cx="371.5" cy="261.5" r="1.7" fill="#17521f" opacity="0.85"/>
<line x1="422.7" y1="316.2" x2="422.7" y2="336.3" stroke="#2a1a1a" stroke-width="1.2"/>
<line x1="414.2" y1="316.2" x2="431.2" y2="316.2" stroke="#2a1a1a" stroke-width="1.2"/>
<line x1="414.2" y1="336.3" x2="431.2" y2="336.3" stroke="#2a1a1a" stroke-width="1.2"/>
<circle cx="422.7" cy="316.2" r="1.7" fill="#7a0a1c" opacity="0.85"/>
<circle cx="422.7" cy="320.3" r="1.7" fill="#7a0a1c" opacity="0.85"/>
<circle cx="422.7" cy="336.3" r="1.7" fill="#7a0a1c" opacity="0.85"/>
<line x1="473.8" y1="258.7" x2="473.8" y2="319.4" stroke="#1a1e30" stroke-width="1.2"/>
<line x1="465.1" y1="258.7" x2="482.5" y2="258.7" stroke="#1a1e30" stroke-width="1.2"/>
<line x1="465.1" y1="319.4" x2="482.5" y2="319.4" stroke="#1a1e30" stroke-width="1.2"/>
<circle cx="473.8" cy="258.7" r="1.7" fill="#0a1a40" opacity="0.85"/>
<circle cx="473.8" cy="292.3" r="1.7" fill="#0a1a40" opacity="0.85"/>
<circle cx="473.8" cy="319.4" r="1.7" fill="#0a1a40" opacity="0.85"/>
<text x="7.0" y="394.8" font-size="11" text-anchor="start" fill="#000" font-weight="bold" style="stroke:#000;stroke-width:0.35px">E</text>
<line x1="40" y1="425.2" x2="40" y2="519.6" stroke="#333" stroke-width="1.3"/>
<line x1="39.4" y1="519" x2="183.9" y2="519" stroke="#333" stroke-width="1.3"/>
<line x1="37" y1="432.5" x2="40" y2="432.5" stroke="#333" stroke-width="1.1"/>
<text x="34" y="434.9" font-size="8.0" text-anchor="end" fill="#222" font-weight="normal" >0</text>
<line x1="37" y1="449.8" x2="40" y2="449.8" stroke="#333" stroke-width="1.1"/>
<text x="34" y="452.2" font-size="8.0" text-anchor="end" fill="#222" font-weight="normal" >20</text>
<line x1="37" y1="467.1" x2="40" y2="467.1" stroke="#333" stroke-width="1.1"/>
<text x="34" y="469.5" font-size="8.0" text-anchor="end" fill="#222" font-weight="normal" >40</text>
<line x1="37" y1="484.4" x2="40" y2="484.4" stroke="#333" stroke-width="1.1"/>
<text x="34" y="486.79999999999995" font-size="8.0" text-anchor="end" fill="#222" font-weight="normal" >60</text>
<line x1="37" y1="501.7" x2="40" y2="501.7" stroke="#333" stroke-width="1.1"/>
<text x="34" y="504.09999999999997" font-size="8.0" text-anchor="end" fill="#222" font-weight="normal" >80</text>
<line x1="37" y1="519.0" x2="40" y2="519.0" stroke="#333" stroke-width="1.1"/>
<text x="34" y="521.4" font-size="8.0" text-anchor="end" fill="#222" font-weight="normal" >100</text>
<line x1="40.0" y1="519" x2="40.0" y2="521.5" stroke="#333" stroke-width="1.1"/>
<text x="40.0" y="531.7" font-size="8.0" text-anchor="middle" fill="#222" font-weight="normal" >0</text>
<line x1="86.6" y1="519" x2="86.6" y2="521.5" stroke="#333" stroke-width="1.1"/>
<text x="86.6" y="531.7" font-size="8.0" text-anchor="middle" fill="#222" font-weight="normal" >2</text>
<line x1="133.2" y1="519" x2="133.2" y2="521.5" stroke="#333" stroke-width="1.1"/>
<text x="133.2" y="531.7" font-size="8.0" text-anchor="middle" fill="#222" font-weight="normal" >4</text>
<line x1="179.8" y1="519" x2="179.8" y2="521.5" stroke="#333" stroke-width="1.1"/>
<text x="179.8" y="531.7" font-size="8.0" text-anchor="middle" fill="#222" font-weight="normal" >6</text>
<text x="19.2" y="410.4" font-size="7.8" text-anchor="start" fill="#1a1a1a" font-weight="normal"  textLength="53.2" lengthAdjust="spacingAndGlyphs">Low Dose ADP</text>
<polygon points="39.1,415.0 45.1,415.0 42.1,421.9" fill="#111"/>
<g transform="translate(14.4,471.8) rotate(-90) scale(0.72,1)"><text x="0" y="0" font-size="9.0" text-anchor="middle" fill="#1a1a1a" style="stroke-width:0.4px">% Aggregation</text></g>
<g transform="translate(112.1,544.1) scale(0.71,1)"><text x="0" y="0" font-size="9.2" text-anchor="middle" fill="#1a1a1a" style="stroke-width:0.4px">Time (min)</text></g>
<rect x="39.4" y="425.3" width="3.2" height="12" fill="#5e7488" opacity="0.85"/>
<path d="M41.00 434.33 L41.50 437.18 L42.00 437.46 L42.50 441.06 L43.00 443.97 L43.50 446.45 L44.00 448.40 L44.50 451.07 L45.00 452.65 L45.50 454.87 L46.00 456.70 L46.50 458.22 L47.00 460.51 L47.50 463.15 L48.00 464.36 L48.50 466.45 L49.00 467.07 L49.50 467.80 L50.00 467.20 L50.50 467.99 L51.00 466.68 L51.50 466.38 L52.00 466.36 L52.50 465.95 L53.00 464.45 L53.50 463.62 L54.00 463.73 L54.50 462.10 L55.00 462.08 L55.50 460.65 L56.00 459.68 L56.50 458.83 L57.00 458.38 L57.50 457.09 L58.00 456.99 L58.50 455.55 L59.00 455.18 L59.50 454.51 L60.00 454.72 L60.50 454.04 L61.00 453.27 L61.50 454.48 L62.00 453.22 L62.50 453.43 L63.00 453.92 L63.50 454.92 L64.00 454.33 L64.50 455.09 L65.00 455.18 L65.50 454.84 L66.00 456.43 L66.50 456.97 L67.00 456.72 L67.50 457.15 L68.00 456.73 L68.50 457.05 L69.00 457.91 L69.50 458.66 L70.00 458.28 L70.50 458.74 L71.00 459.07 L71.50 458.58 L72.00 458.74 L72.50 459.08 L73.00 457.62 L73.50 458.50 L74.00 457.08 L74.50 458.14 L75.00 457.92 L75.50 457.44 L76.00 457.06 L76.50 457.45 L77.00 457.16 L77.50 457.29 L78.00 456.67 L78.50 457.28 L79.00 456.37 L79.50 456.62 L80.00 456.46 L80.50 457.17 L81.00 455.66 L81.50 456.08 L82.00 456.75 L82.50 455.70 L83.00 455.29 L83.50 455.93 L84.00 455.53 L84.50 455.99 L85.00 455.03 L85.50 455.51 L86.00 455.68 L86.50 455.81 L87.00 454.68 L87.50 455.89 L88.00 454.68 L88.50 454.33 L89.00 454.57 L89.50 455.08 L90.00 454.80 L90.50 455.14 L91.00 455.13 L91.50 455.01 L92.00 454.69 L92.50 455.69 L93.00 453.64 L93.50 453.84 L94.00 454.42 L94.50 454.01 L95.00 453.33 L95.50 454.17 L96.00 454.16 L96.50 453.27 L97.00 454.88 L97.50 455.06 L98.00 454.98 L98.50 454.06 L99.00 454.35 L99.50 453.67 L100.00 454.28 L100.50 453.80 L101.00 454.29 L101.50 453.87 L102.00 454.51 L102.50 454.36 L103.00 454.51 L103.50 453.04 L104.00 452.89 L104.50 453.95 L105.00 453.41 L105.50 453.85 L106.00 453.75 L106.50 453.64 L107.00 453.96 L107.50 453.73 L108.00 453.64 L108.50 452.90 L109.00 454.16 L109.50 453.31 L110.00 453.75 L110.50 453.31 L111.00 453.74 L111.50 453.13 L112.00 453.11 L112.50 453.02 L113.00 452.55 L113.50 452.56 L114.00 452.73 L114.50 452.69 L115.00 452.21 L115.50 453.83 L116.00 452.11 L116.50 452.40 L117.00 453.73 L117.50 452.13 L118.00 452.79 L118.50 452.69 L119.00 452.20 L119.50 451.54 L120.00 451.43 L120.50 452.15 L121.00 452.32 L121.50 450.98 L122.00 452.08 L122.50 451.62 L123.00 452.34 L123.50 451.93 L124.00 451.38 L124.50 451.52 L125.00 451.70 L125.50 452.29 L126.00 453.08 L126.50 451.68 L127.00 451.50 L127.50 451.73 L128.00 451.33 L128.50 451.59 L129.00 451.40 L129.50 451.14 L130.00 450.67 L130.50 451.07 L131.00 451.36 L131.50 450.87 L132.00 451.51 L132.50 451.15 L133.00 450.53 L133.50 451.39 L134.00 449.88 L134.50 450.95 L135.00 451.22 L135.50 450.09 L136.00 450.09 L136.50 450.54 L137.00 450.72 L137.50 450.16 L138.00 449.99 L138.50 450.27 L139.00 449.88 L139.50 449.09 L140.00 449.55 L140.50 449.59 L141.00 448.80 L141.50 449.71 L142.00 449.10 L142.50 449.80 L143.00 448.64 L143.50 448.89 L144.00 448.58 L144.50 449.91 L145.00 449.87 L145.50 449.93 L146.00 449.90 L146.50 449.58 L147.00 449.54 L147.50 448.21 L148.00 449.19 L148.50 448.75 L149.00 448.81 L149.50 448.32 L150.00 449.57 L150.50 448.96 L151.00 448.11 L151.50 449.08 L152.00 448.76 L152.50 448.25 L153.00 448.59 L153.50 448.32 L154.00 447.54 L154.50 447.89 L155.00 448.88 L155.50 448.78 L156.00 448.72 L156.50 447.97 L157.00 448.24 L157.50 448.55 L158.00 448.84 L158.50 448.06 L159.00 447.93 L159.50 449.01 L160.00 448.46 L160.50 448.22 L161.00 448.02 L161.50 448.04 L162.00 449.15 L162.50 448.82 L163.00 448.11 L163.50 447.68 L164.00 449.12 L164.50 449.06 L165.00 448.86 L165.50 448.66 L166.00 447.28 L166.50 447.56 L167.00 448.48 L167.50 448.04 L168.00 448.30 L168.50 447.89 L169.00 447.81 L169.50 448.41 L170.00 447.92 L170.50 448.10 L171.00 448.22 L171.50 448.20 L172.00 448.65 L172.50 448.75 L173.00 447.37 L173.50 447.91 L174.00 447.72 L174.50 448.41 L175.00 447.49 L175.50 448.41 L176.00 448.37 L176.50 448.30 L177.00 447.52 L177.50 447.90 L178.00 447.46" fill="none" stroke="#b61b3d" stroke-width="1.3" stroke-linejoin="round" opacity="1"/>
<path d="M41.00 433.00 L41.50 436.67 L42.00 439.94 L42.50 442.93 L43.00 445.81 L43.50 448.21 L44.00 450.87 L44.50 453.44 L45.00 455.09 L45.50 457.03 L46.00 459.15 L46.50 460.83 L47.00 462.50 L47.50 463.97 L48.00 465.79 L48.50 467.31 L49.00 467.74 L49.50 468.43 L50.00 468.40 L50.50 468.84 L51.00 468.92 L51.50 469.47 L52.00 469.28 L52.50 469.52 L53.00 468.95 L53.50 468.06 L54.00 466.57 L54.50 466.18 L55.00 465.59 L55.50 465.06 L56.00 464.09 L56.50 463.83 L57.00 463.22 L57.50 462.82 L58.00 462.89 L58.50 462.02 L59.00 461.81 L59.50 461.72 L60.00 461.17 L60.50 461.29 L61.00 461.43 L61.50 461.58 L62.00 461.47 L62.50 462.05 L63.00 462.64 L63.50 462.20 L64.00 463.10 L64.50 463.31 L65.00 463.59 L65.50 464.78 L66.00 465.04 L66.50 465.13 L67.00 466.02 L67.50 466.69 L68.00 466.99 L68.50 467.64 L69.00 467.85 L69.50 468.43 L70.00 469.00 L70.50 468.84 L71.00 469.41 L71.50 469.59 L72.00 470.07 L72.50 470.07 L73.00 470.54 L73.50 470.95 L74.00 471.52 L74.50 471.88 L75.00 471.55 L75.50 471.96 L76.00 472.60 L76.50 472.21 L77.00 472.85 L77.50 473.20 L78.00 473.79 L78.50 473.90 L79.00 473.89 L79.50 474.13 L80.00 474.40 L80.50 475.08 L81.00 474.83 L81.50 475.10 L82.00 475.51 L82.50 475.63 L83.00 475.85 L83.50 475.87 L84.00 476.38 L84.50 476.51 L85.00 477.14 L85.50 477.24 L86.00 477.29 L86.50 477.68 L87.00 477.65 L87.50 478.21 L88.00 478.16 L88.50 478.52 L89.00 478.26 L89.50 478.89 L90.00 478.59 L90.50 478.72 L91.00 479.37 L91.50 479.44 L92.00 479.92 L92.50 480.67 L93.00 480.13 L93.50 480.41 L94.00 480.86 L94.50 481.17 L95.00 481.25 L95.50 481.50 L96.00 481.99 L96.50 482.21 L97.00 482.10 L97.50 482.62 L98.00 482.95 L98.50 483.01 L99.00 483.69 L99.50 483.78 L100.00 484.63 L100.50 484.82 L101.00 485.19 L101.50 485.42 L102.00 485.92 L102.50 485.82 L103.00 486.39 L103.50 487.09 L104.00 486.77 L104.50 487.80 L105.00 487.46 L105.50 488.39 L106.00 488.27 L106.50 488.94 L107.00 488.99 L107.50 488.73 L108.00 489.51 L108.50 489.60 L109.00 489.27 L109.50 489.25 L110.00 489.31 L110.50 489.12 L111.00 489.66 L111.50 489.26 L112.00 489.39" fill="none" stroke="#1a3f78" stroke-width="1.3" stroke-linejoin="round" opacity="1"/>
<line x1="112" y1="489.4" x2="178.3" y2="489.2" stroke="#5a78a8" stroke-width="1.0"/>
<path d="M48.70 468.56 L49.20 470.74 L49.70 469.50 L50.20 474.31 L50.70 473.88 L51.20 475.26 L51.70 474.56 L52.20 475.30 L52.70 474.98 L53.20 475.04 L53.70 474.94 L54.20 475.36 L54.70 477.03 L55.20 478.32 L55.70 477.30 L56.20 477.72 L56.70 476.82 L57.20 477.38 L57.70 476.06 L58.20 476.61 L58.70 477.38 L59.20 477.82 L59.70 477.26 L60.20 479.12 L60.70 479.90 L61.20 481.51 L61.70 483.62 L62.20 486.02 L62.70 486.85 L63.20 490.61 L63.70 490.99 L64.20 492.04 L64.70 495.08 L65.20 497.42 L65.70 497.12 L66.20 498.68 L66.70 498.92 L67.20 497.69 L67.70 496.91 L68.20 497.82 L68.70 499.42 L69.20 498.34 L69.70 498.02 L70.20 498.20 L70.70 499.06 L71.20 499.07 L71.70 499.62 L72.20 499.69 L72.70 498.54 L73.20 499.01 L73.70 498.42 L74.20 499.14 L74.70 498.41 L75.20 498.38 L75.70 500.37 L76.20 499.12 L76.70 499.49 L77.20 500.62 L77.70 499.57 L78.20 499.03 L78.70 499.13 L79.20 498.65 L79.70 499.76 L80.20 498.90 L80.70 500.16 L81.20 498.89 L81.70 498.89 L82.20 498.85 L82.70 499.48 L83.20 499.21 L83.70 499.85 L84.20 498.51 L84.70 498.74 L85.20 499.40 L85.70 497.75 L86.20 497.90 L86.70 498.26 L87.20 497.48 L87.70 496.72 L88.20 495.93 L88.70 496.91 L89.20 497.79 L89.70 498.57 L90.20 497.87 L90.70 499.62 L91.20 499.26 L91.70 499.41 L92.20 499.29 L92.70 500.51 L93.20 500.44 L93.70 501.03 L94.20 500.59 L94.70 501.64 L95.20 502.37 L95.70 501.88 L96.20 503.04 L96.70 503.76 L97.20 503.56 L97.70 503.75 L98.20 504.13 L98.70 505.44 L99.20 504.32 L99.70 505.42 L100.20 505.57 L100.70 506.41 L101.20 506.54 L101.70 505.90 L102.20 509.00 L102.70 507.57 L103.20 506.41 L103.70 507.01 L104.20 508.07 L104.70 508.70 L105.20 507.10 L105.70 509.10 L106.20 507.36 L106.70 508.02 L107.20 509.63 L107.70 510.52 L108.20 509.03 L108.70 508.95 L109.20 510.48 L109.70 508.48 L110.20 509.80 L110.70 509.87 L111.20 510.68 L111.70 510.14 L112.20 509.74 L112.70 510.64 L113.20 509.18 L113.70 511.04 L114.20 509.82 L114.70 509.73 L115.20 510.34 L115.70 510.85 L116.20 511.57 L116.70 509.10 L117.20 511.86 L117.70 512.21 L118.20 511.38 L118.70 510.73 L119.20 512.57 L119.70 512.13 L120.20 506.98 L120.70 511.26 L121.20 512.41 L121.70 511.18 L122.20 509.88 L122.70 511.13 L123.20 513.16 L123.70 513.13 L124.20 513.19 L124.70 514.44 L125.20 512.93 L125.70 510.20 L126.20 515.26 L126.70 512.37 L127.20 509.97 L127.70 512.53 L128.20 514.01 L128.70 515.79 L129.20 514.21 L129.70 513.36 L130.20 516.28 L130.70 513.73 L131.20 514.11 L131.70 514.65 L132.20 513.24 L132.70 515.53 L133.20 516.05 L133.70 512.32 L134.20 515.04 L134.70 514.67 L135.20 513.54 L135.70 512.10 L136.20 512.44 L136.70 515.29 L137.20 513.34 L137.70 515.56 L138.20 515.12 L138.70 511.68 L139.20 515.43 L139.70 515.91 L140.20 513.62 L140.70 514.55 L141.20 515.42 L141.70 515.41 L142.20 515.65 L142.70 515.13 L143.20 514.18 L143.70 516.92 L144.20 517.16 L144.70 517.55 L145.20 517.22 L145.70 515.50 L146.20 515.41 L146.70 515.64 L147.20 516.54 L147.70 515.96 L148.20 517.00 L148.70 517.63 L149.20 515.79 L149.70 517.09 L150.20 515.89 L150.70 511.28 L151.20 515.15 L151.70 516.03 L152.20 514.63 L152.70 516.81 L153.20 517.73 L153.70 515.33 L154.20 516.09 L154.70 517.79 L155.20 516.71 L155.70 516.58 L156.20 516.16 L156.70 517.32 L157.20 516.69 L157.70 515.42 L158.20 514.20 L158.70 513.98 L159.20 516.98 L159.70 516.14 L160.20 517.68 L160.70 516.83 L161.20 515.22 L161.70 516.62 L162.20 517.43 L162.70 515.53 L163.20 515.88 L163.70 517.89 L164.20 514.74 L164.70 515.32 L165.20 517.24 L165.70 516.46 L166.20 515.23 L166.70 514.94 L167.20 516.65 L167.70 517.30 L168.20 516.94 L168.70 516.54 L169.20 517.49 L169.70 516.41 L170.20 513.66 L170.70 517.90 L171.20 514.94 L171.70 515.90 L172.20 515.93 L172.70 517.25 L173.20 515.24 L173.70 514.04 L174.20 514.25 L174.70 516.12 L175.20 513.69 L175.70 516.33 L176.20 514.86 L176.70 514.21 L177.20 512.24 L177.70 515.13 L178.20 515.44" fill="none" stroke="#3a9d42" stroke-width="1.3" stroke-linejoin="round" opacity="1"/>
<line x1="192.1" y1="445.6" x2="202.7" y2="445.6" stroke="#b61b3d" stroke-width="1.1" opacity="0.8"/>
<text x="206.9" y="448.3" font-size="7.8" text-anchor="start" fill="#1a1a1a" font-weight="normal"  textLength="53.3" lengthAdjust="spacingAndGlyphs">GAS6 Antibody</text>
<line x1="192.1" y1="486.9" x2="202.7" y2="486.9" stroke="#1a3f78" stroke-width="1.1" opacity="0.8"/>
<text x="206.9" y="489.59999999999997" font-size="7.8" text-anchor="start" fill="#1a1a1a" font-weight="normal"  textLength="90.8" lengthAdjust="spacingAndGlyphs">GAS6 Antibody + rhGAS6</text>
<line x1="192.1" y1="507.5" x2="202.7" y2="507.5" stroke="#3a9d42" stroke-width="1.1" opacity="0.8"/>
<text x="206.9" y="510.2" font-size="7.8" text-anchor="start" fill="#1a1a1a" font-weight="normal"  textLength="51.2" lengthAdjust="spacingAndGlyphs">Vehicle Control</text>
<text x="312.6" y="394.8" font-size="11" text-anchor="start" fill="#000" font-weight="bold" style="stroke:#000;stroke-width:0.35px">F</text>
<rect x="354.3" y="444" width="30" height="75" fill="#b2d59c"/>
<rect x="400.4" y="513.3" width="30.8" height="5.7" fill="#e38a80"/>
<rect x="447.5" y="502" width="30.5" height="17" fill="#8b98bb"/>
<line x1="346" y1="429.6" x2="346" y2="519.6" stroke="#333" stroke-width="1.3"/>
<line x1="345.4" y1="519" x2="486.6" y2="519" stroke="#333" stroke-width="1.3"/>
<line x1="343" y1="519.0" x2="346" y2="519.0" stroke="#333" stroke-width="1.1"/>
<text x="340.4" y="521.4" font-size="8.0" text-anchor="end" fill="#222" font-weight="normal" >0</text>
<line x1="343" y1="501.66" x2="346" y2="501.66" stroke="#333" stroke-width="1.1"/>
<text x="340.4" y="504.06" font-size="8.0" text-anchor="end" fill="#222" font-weight="normal" >20</text>
<line x1="343" y1="484.32" x2="346" y2="484.32" stroke="#333" stroke-width="1.1"/>
<text x="340.4" y="486.71999999999997" font-size="8.0" text-anchor="end" fill="#222" font-weight="normal" >40</text>
<line x1="343" y1="466.98" x2="346" y2="466.98" stroke="#333" stroke-width="1.1"/>
<text x="340.4" y="469.38" font-size="8.0" text-anchor="end" fill="#222" font-weight="normal" >60</text>
<line x1="343" y1="449.64" x2="346" y2="449.64" stroke="#333" stroke-width="1.1"/>
<text x="340.4" y="452.03999999999996" font-size="8.0" text-anchor="end" fill="#222" font-weight="normal" >80</text>
<line x1="343" y1="432.3" x2="346" y2="432.3" stroke="#333" stroke-width="1.1"/>
<text x="340.4" y="434.7" font-size="8.0" text-anchor="end" fill="#222" font-weight="normal" >100</text>
<line x1="369.2" y1="519" x2="369.2" y2="521.8" stroke="#333" stroke-width="1.1"/>
<line x1="415.8" y1="519" x2="415.8" y2="521.8" stroke="#333" stroke-width="1.1"/>
<line x1="462.6" y1="519" x2="462.6" y2="521.8" stroke="#333" stroke-width="1.1"/>
<g transform="translate(320.0,473.6) rotate(-90) scale(0.81,1)"><text x="0" y="0" font-size="8.3" text-anchor="middle" fill="#1a1a1a" style="stroke-width:0.4px">Final aggregation %</text></g>
<g transform="translate(369.3,526.6) rotate(-45)"><text x="0" y="4" font-size="7.85" text-anchor="end" fill="#1a1a1a" textLength="51.2" lengthAdjust="spacingAndGlyphs">Vehicle Control</text></g>
<g transform="translate(416.6,528.4) rotate(-45)"><text x="0" y="4" font-size="7.85" text-anchor="end" fill="#1a1a1a" textLength="53.3" lengthAdjust="spacingAndGlyphs">GAS6 Antibody</text></g>
<g transform="translate(462.4,528.4) rotate(-45)"><text x="0" y="4" font-size="7.85" text-anchor="end" fill="#1a1a1a" textLength="90.9" lengthAdjust="spacingAndGlyphs">GAS6 Antibody + rhGAS6</text></g>
<polyline points="369.2,420.4 369.2,409.8 462.5,409.8 462.5,420.4" fill="none" stroke="#3a3a3a" stroke-width="1.05"/>
<polyline points="369.2,428 369.2,424.6 415,424.6 415,499.7" fill="none" stroke="#3a3a3a" stroke-width="1.05"/>
<polyline points="417.7,499.7 417.7,424.6 462.5,424.6 462.5,427.1" fill="none" stroke="#3a3a3a" stroke-width="1.05"/>
<text x="416.3" y="407.5" font-size="7.6" text-anchor="middle" fill="#1a1a1a" font-weight="normal" >ns</text>
<text x="392" y="423" font-size="7" text-anchor="middle" fill="#1a1a1a" font-weight="normal" >*</text>
<text x="440.4" y="421.9" font-size="7.6" text-anchor="middle" fill="#1a1a1a" font-weight="normal" >ns</text>
<line x1="369.2" y1="433.3" x2="369.2" y2="478.9" stroke="#222" stroke-width="1.2"/>
<line x1="361.59999999999997" y1="433.3" x2="376.8" y2="433.3" stroke="#222" stroke-width="1.2"/>
<line x1="361.59999999999997" y1="478.9" x2="376.8" y2="478.9" stroke="#222" stroke-width="1.2"/>
<circle cx="369.2" cy="433" r="1.6" fill="#1f6a2a" opacity="0.85"/>
<circle cx="369.2" cy="449.6" r="1.6" fill="#1f6a2a" opacity="0.85"/>
<circle cx="369.2" cy="488.9" r="1.6" fill="#1f6a2a" opacity="0.85"/>
<line x1="415.8" y1="505.4" x2="415.8" y2="515" stroke="#2a1a1a" stroke-width="1.2"/>
<line x1="408.1" y1="505.4" x2="423.5" y2="505.4" stroke="#2a1a1a" stroke-width="1.2"/>
<line x1="408.1" y1="515" x2="423.5" y2="515" stroke="#2a1a1a" stroke-width="1.2"/>
<circle cx="415.8" cy="503" r="1.6" fill="#7a0a1c" opacity="0.85"/>
<circle cx="415.8" cy="510.8" r="1.6" fill="#7a0a1c" opacity="0.85"/>
<circle cx="413.2" cy="515" r="1.6" fill="#7a0a1c" opacity="0.85"/>
<circle cx="418.8" cy="515" r="1.6" fill="#7a0a1c" opacity="0.85"/>
<line x1="462.6" y1="447.6" x2="462.6" y2="512" stroke="#1a1e30" stroke-width="1.2"/>
<line x1="455.0" y1="447.6" x2="470.20000000000005" y2="447.6" stroke="#1a1e30" stroke-width="1.2"/>
<line x1="455.0" y1="512" x2="470.20000000000005" y2="512" stroke="#1a1e30" stroke-width="1.2"/>
<circle cx="462.6" cy="432.5" r="1.6" fill="#0a1a50" opacity="0.85"/>
<circle cx="462.6" cy="492.2" r="1.6" fill="#0a1a50" opacity="0.85"/>
<circle cx="462.6" cy="508.7" r="1.6" fill="#0a1a50" opacity="0.85"/>
<circle cx="462.6" cy="512.3" r="1.6" fill="#0a1a50" opacity="0.85"/>
</g>
<rect x="0.5" y="0.5" width="519" height="601" fill="none" stroke="#5a5a5a" stroke-width="1"/>
</svg></div></body></html>
